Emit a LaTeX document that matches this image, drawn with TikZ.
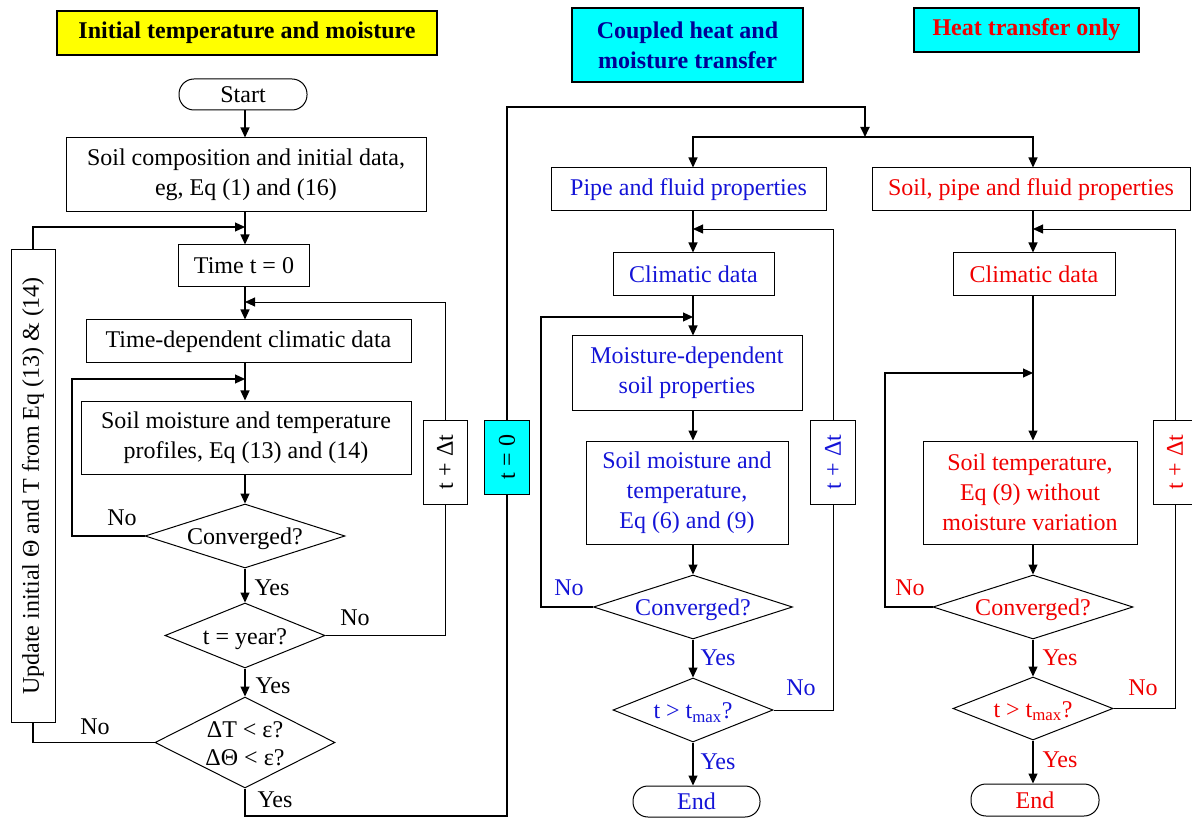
\documentclass[tikz,border=0pt]{standalone}
\usepackage{fontspec}
\setmainfont{Liberation Serif}
\usetikzlibrary{shapes.geometric,arrows.meta}
\definecolor{tblue}{RGB}{20,20,215}
\definecolor{tnavy}{RGB}{0,0,150}
\definecolor{tred}{RGB}{240,0,0}
\definecolor{tcyan}{RGB}{0,255,255}
\definecolor{tyellow}{RGB}{255,255,0}
\newcommand\dtext[1]{\raisebox{-0.36em}[0pt][0pt]{\makebox[0pt]{#1}}}
\begin{document}
\begin{tikzpicture}[x=1pt,y=-1pt,
  font=\fontsize{24}{30}\selectfont,
  box/.style={draw, line width=1pt, inner sep=2pt, align=center},
  term/.style={draw, line width=1pt, rounded corners=15pt, inner sep=0pt},
  dia/.style={diamond, draw, line width=1pt, inner sep=0pt},
  title/.style={draw, line width=1.3pt, align=center, font=\fontsize{24}{30}\selectfont\bfseries},
  arr/.style={line width=1.2pt, -{Triangle[length=10pt,width=9pt]}},
  ln/.style={line width=1.2pt},
  fb/.style={line width=0.9pt},
  thk/.style={line width=1.8pt},
  lbl/.style={inner sep=0pt}
]
\useasboundingbox (0,0) rectangle (1192,818);

% ---- titles
\node[title, fill=tyellow, minimum width=380pt, minimum height=44pt] (t1) at (247,33) {Initial temperature and moisture};
\node[title, fill=tcyan, text=tnavy, minimum width=231pt, minimum height=74pt] (t2) at (687.5,45) {Coupled heat and\\moisture transfer};
\node[title, fill=tcyan, text=tred, minimum width=225pt, minimum height=44pt] (t3) at (1026.5,30) {Heat transfer only};

% ---- left column
\coordinate (X1) at (245,0);
\node[term, minimum width=128pt, minimum height=31pt] (start) at (243,94.5) {Start};
\node[box, minimum width=360pt, minimum height=74pt] (comp) at (246,175) {Soil composition and initial data,\\eg, Eq (1) and (16)};
\node[box, minimum width=131pt, minimum height=42pt] (time0) at (244,266) {Time t = 0};
\node[box, minimum width=325pt, minimum height=43pt] (tdc) at (248.5,341.5) {Time-dependent climatic data};
\node[box, minimum width=330pt, minimum height=73pt] (smt) at (246,437.5) {Soil moisture and temperature\\profiles, Eq (13) and (14)};
\node[dia, minimum width=200pt, minimum height=64pt] (c1) at (245,536) {\dtext{Converged?}};
\node[dia, minimum width=160pt, minimum height=65pt] (ty) at (245,635.5) {\dtext{t = year?}};
\node[dia, minimum width=180pt, minimum height=91pt] (de) at (245,742.5) {\raisebox{-10pt}[0pt][0pt]{\makebox[0pt]{\fontsize{24}{28}\selectfont\begin{tabular}{@{}c@{}}ΔT < ε?\\ΔΘ < ε?\end{tabular}}}};
\node[box, minimum width=44pt, minimum height=472pt] (upd) at (33,486) {\rotatebox{90}{Update initial Θ and T from Eq (13) \& (14)}};
\node[box, minimum width=44pt, minimum height=84pt] (tdt1) at (445,462) {\rotatebox{90}{t + Δt}};

\node[lbl] (n1) at (122,518) {No};
\node[lbl] (y1) at (272,588) {Yes};
\node[lbl] (n2) at (355,618) {No};
\node[lbl] (y2) at (273,686) {Yes};
\node[lbl] (n3) at (95,727) {No};
\node[lbl] (y3) at (275,800) {Yes};

\coordinate (j1) at (245,227);
\coordinate (j2) at (245,302);
\coordinate (j3) at (245,379);
\coordinate (k1) at (72,379);
\coordinate (k2) at (507,816);
\coordinate (k3) at (865,107);
\coordinate (sp) at (865,137);

\draw[arr] (start.south -| X1) -- (comp.north -| X1);
\draw[arr] (comp.south -| X1) -- (time0.north -| X1);
\draw[arr] (time0.south -| X1) -- (tdc.north -| X1);
\draw[arr] (tdc.south -| X1) -- (smt.north -| X1);
\draw[arr] (smt.south -| X1) -- (c1.north);
\draw[arr] (c1.south) -- (ty.north);
\draw[arr] (ty.south) -- (de.north);
\draw[arr] (upd.north) |- (j1);
\draw[arr,fb] (tdt1.north) |- (j2);
\draw[arr] (c1.west) -| (k1) -- (j3);
\draw[fb] (ty.east) -| (tdt1.south);
\draw[ln] (de.west) -| (upd.south);

% ---- main link
\draw[thk] (de.south) |- (k2) -- ++(0,-322);
\node[box, fill=tcyan, minimum width=45pt, minimum height=74pt] (tz) at (507,457) {\rotatebox{90}{t = 0}};
\draw[thk, -{Triangle[length=10pt,width=9pt]}] (tz.north) |- (k3) -- (sp);

% ---- middle column
\coordinate (X2) at (693,0);
\node[box, text=tblue, minimum width=275pt, minimum height=43pt] (pipe) at (688.5,189.5) {Pipe and fluid properties};
\node[box, text=tblue, minimum width=161pt, minimum height=43pt] (clim2) at (693.5,274.5) {Climatic data};
\node[box, text=tblue, minimum width=230pt, minimum height=74pt] (mds) at (687,373) {Moisture-dependent\\soil properties};
\node[box, text=tblue, minimum width=202pt, minimum height=103pt] (smt2) at (687,492.5) {Soil moisture and\\temperature,\\Eq (6) and (9)};
\node[dia, text=tblue, minimum width=199pt, minimum height=64pt] (c2) at (693,607) {\dtext{Converged?}};
\node[dia, text=tblue, minimum width=160pt, minimum height=64pt] (tm2) at (693,710) {\dtext{t > t\textsubscript{max}?}};
\node[term, text=tblue, minimum width=127pt, minimum height=31pt] (end2) at (696.5,801.5) {End};
\node[box, text=tblue, minimum width=45pt, minimum height=84pt] (tdt2) at (833,462) {\rotatebox{90}{t + Δt}};

\node[lbl, text=tblue] (n4) at (569,588) {No};
\node[lbl, text=tblue] (y4) at (718,658) {Yes};
\node[lbl, text=tblue] (n5) at (801,688) {No};
\node[lbl, text=tblue] (y5) at (718,762) {Yes};

\coordinate (j4) at (693,229);
\coordinate (j5) at (693,317);
\coordinate (k4) at (541,317);

\draw[arr] (sp) -| (pipe.north -| X2);
\draw[arr] (pipe.south -| X2) -- (clim2.north -| X2);
\draw[arr] (clim2.south -| X2) -- (mds.north -| X2);
\draw[arr] (mds.south -| X2) -- (smt2.north -| X2);
\draw[arr] (smt2.south -| X2) -- (c2.north);
\draw[arr] (c2.south) -- (tm2.north);
\draw[arr] (tm2.south) -- (end2.north -| X2);
\draw[arr,fb] (tdt2.north) |- (j4);
\draw[arr] (c2.west) -| (k4) -- (j5);
\draw[fb] (tm2.east) -| (tdt2.south);

% ---- right column
\coordinate (X3) at (1033,0);
\node[box, text=tred, minimum width=318pt, minimum height=43pt] (spf) at (1031,189.5) {Soil, pipe and fluid properties};
\node[box, text=tred, minimum width=162pt, minimum height=43pt] (clim3) at (1034,274.5) {Climatic data};
\node[box, text=tred, minimum width=214pt, minimum height=103pt] (st3) at (1030,492.5) {Soil temperature,\\Eq (9) without\\moisture variation};
\node[dia, text=tred, minimum width=200pt, minimum height=64pt] (c3) at (1033,607) {\dtext{Converged?}};
\node[dia, text=tred, minimum width=160pt, minimum height=63pt] (tm3) at (1033,708.5) {\dtext{t > t\textsubscript{max}?}};
\node[term, text=tred, minimum width=128pt, minimum height=32pt] (end3) at (1035,800) {End};
\node[box, text=tred, minimum width=44pt, minimum height=84pt] (tdt3) at (1175,462) {\rotatebox{90}{t + Δt}};

\node[lbl, text=tred] (n6) at (910,588) {No};
\node[lbl, text=tred] (y6) at (1060,658) {Yes};
\node[lbl, text=tred] (n7) at (1143,688) {No};
\node[lbl, text=tred] (y7) at (1060,760) {Yes};

\coordinate (j6) at (1033,229);
\coordinate (j7) at (1033,373);
\coordinate (k6) at (885,373);

\draw[arr] (sp) -| (spf.north -| X3);
\draw[arr] (spf.south -| X3) -- (clim3.north -| X3);
\draw[arr] (clim3.south -| X3) -- (st3.north -| X3);
\draw[arr] (st3.south -| X3) -- (c3.north);
\draw[arr] (c3.south) -- (tm3.north);
\draw[arr] (tm3.south) -- (end3.north -| X3);
\draw[arr,fb] (tdt3.north) |- (j6);
\draw[arr] (c3.west) -| (k6) -- (j7);
\draw[fb] (tm3.east) -| (tdt3.south);
\end{tikzpicture}
\end{document}
